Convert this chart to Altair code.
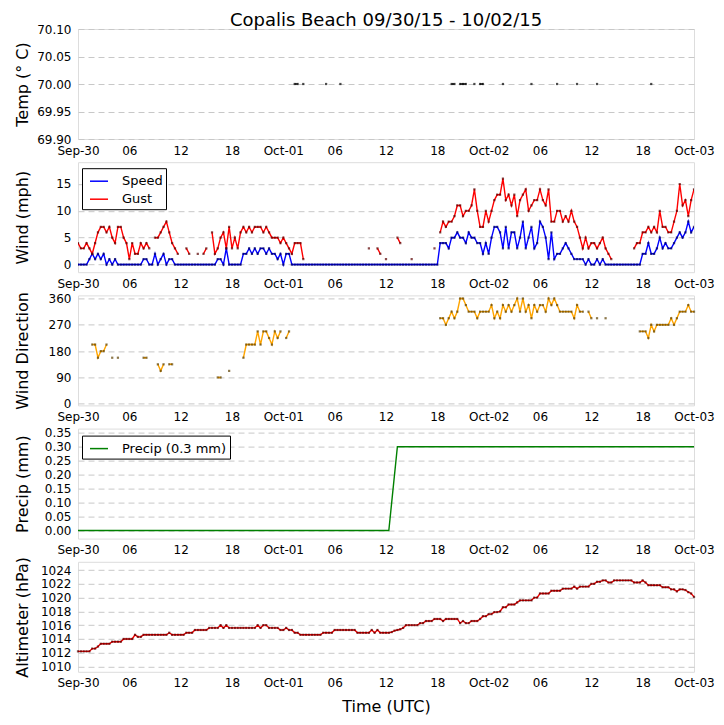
import json
import altair as alt
import pandas as pd

N = None

title_text = "Copalis Beach 09/30/15 - 10/02/15"
x_tick_hours = [0, 6, 12, 18, 24, 30, 36, 42, 48, 54, 60, 66, 72]
x_tick_labels = ["Sep-30", "06", "12", "18", "Oct-01", "06", "12", "18",
                 "Oct-02", "06", "12", "18", "Oct-03"]
obs_step_hours = 1 / 3  # 20-minute observations

# wind speed (mph), one value per 20 minutes
wind_speed = [
    0, 0, 0, 0, 1, 2, 1, 2, 1, 2, 0, 1,
    0, 1, 0, 0, 0, 0, 0, 0, 0, 0, 0, 1,
    1, 0, 0, 2, 0, 1, 2, 0, 1, 1, 0, 0,
    0, 0, 0, 0, 0, 0, 0, 0, 0, 0, 0, 0,
    0, 1, 1, 0, 3, 0, 0, 0, 0, 0, 2, 2,
    3, 2, 3, 2, 3, 3, 2, 3, 2, 2, 1, 2,
    0, 2, 2, 0, 0, 0, 0, 0, 0, 0, 0, 0,
    0, 0, 0, 0, 0, 0, 0, 0, 0, 0, 0, 0,
    0, 0, 0, 0, 0, 0, 0, 0, 0, 0, 0, 0,
    0, 0, 0, 0, 0, 0, 0, 0, 0, 0, 0, 0,
    0, 0, 0, 0, 0, 0, 0, 4, 4, 4, 3, 5,
    5, 6, 5, 5, 4, 6, 5, 5, 4, 4, 2, 4,
    2, 5, 7, 7, 6, 3, 7, 3, 6, 6, 3, 5,
    8, 3, 5, 7, 3, 4, 8, 7, 5, 1, 6, 1,
    2, 2, 3, 4, 3, 2, 1, 1, 1, 1, 0, 1,
    0, 0, 1, 0, 1, 0, 0, 0, 0, 0, 0, 0,
    0, 0, 0, 0, 0, 0, 2, 2, 4, 2, 2, 3,
    5, 3, 4, 3, 3, 4, 5, 6, 5, 6, 8, 6,
    7,
]

# wind gust (mph)
wind_gust = [
    4, 3, 3, 4, 3, 2, 4, 6, 7, 7, 6, 7,
    5, 4, 7, 7, 5, 4, 1, 4, 2, 2, 4, 3,
    4, 3, N, 5, 5, 6, 7, 8, 6, 4, 3, 2,
    N, N, 3, 2, N, N, 2, N, 2, 3, N, 6,
    2, 3, 5, 6, 3, 7, 3, 5, 3, 6, 7, 6,
    7, 6, 7, 7, 7, 6, 7, 6, 5, 5, 5, 4,
    5, 4, 3, 2, 4, 4, 4, 1, N, N, N, N,
    N, N, N, N, N, N, N, N, N, N, N, N,
    N, N, N, N, N, N, 3, N, N, 3, 2, N,
    1, N, N, N, 5, 4, N, N, N, 1, N, N,
    N, N, N, N, N, 3, N, 6, 8, 7, 8, 8,
    9, 11, 11, 9, 10, 10, 11, 14, 10, 7, 7, 10,
    8, 10, 12, 13, 13, 16, 12, 13, 11, 13, 9, 12,
    13, 14, 10, 11, 12, 12, 14, 12, 11, 14, 8, 8,
    10, 10, 8, 9, 8, 10, 8, 7, 5, 3, 5, 3,
    4, 4, 3, 4, 5, 3, 2, 1, N, N, N, N,
    N, N, N, 3, 4, 4, 6, 6, 7, 6, 7, 6,
    10, 7, 7, 6, 6, 8, 10, 15, 11, 12, 9, 12,
    14,
]

# wind direction (degrees)
wind_dir = [
    N, N, N, N, N, 202.5, 202.5, 157.5, 180, 180, 202.5, N,
    157.5, N, 157.5, N, N, N, N, N, N, N, N, 157.5,
    157.5, N, N, N, 135, 112.5, 135, N, 135, 135, N, N,
    N, N, N, N, N, N, N, N, N, N, N, N,
    N, 90, 90, N, N, 112.5, N, N, N, N, 157.5, 202.5,
    202.5, 202.5, 202.5, 247.5, 202.5, 247.5, 247.5, 225, 202.5, 247.5, 225, 247.5,
    N, 225, 247.5, N, N, N, N, N, N, N, N, N,
    N, N, N, N, N, N, N, N, N, N, N, N,
    N, N, N, N, N, N, N, N, N, N, N, N,
    N, N, N, N, N, N, N, N, N, N, N, N,
    N, N, N, N, N, N, N, 292.5, 292.5, 270, 292.5, 315,
    292.5, 315, 360, 360, 337.5, 315, 315, 315, 292.5, 315, 315, 315,
    315, 337.5, 292.5, 315, 292.5, 337.5, 315, 337.5, 315, 337.5, 360, 315,
    360, 315, 337.5, 292.5, 337.5, 315, 337.5, 337.5, 315, 360, 337.5, 360,
    337.5, 315, 315, 315, 315, 315, 292.5, 337.5, 315, 315, N, 315,
    292.5, N, 292.5, N, N, 292.5, N, N, N, N, N, N,
    N, N, N, N, N, 247.5, 247.5, 247.5, 225, 270, 247.5, 270,
    270, 270, 270, 270, 292.5, 270, 292.5, 315, 315, 315, 337.5, 315,
    315,
]

# altimeter (hPa)
altimeter = [
    1012.2, 1012.2, 1012.2, 1012.2, 1012.2, 1012.6, 1012.6, 1012.9, 1013.3, 1013.3, 1013.3, 1013.3,
    1013.6, 1013.6, 1013.6, 1013.6, 1014.0, 1014.0, 1014.0, 1014.0, 1014.6, 1014.3, 1014.3, 1014.6,
    1014.6, 1014.6, 1014.6, 1014.6, 1014.6, 1014.6, 1014.6, 1014.6, 1014.9, 1014.6, 1014.6, 1014.6,
    1014.6, 1014.6, 1014.9, 1014.9, 1014.9, 1015.3, 1015.3, 1015.3, 1015.3, 1015.3, 1015.6, 1015.6,
    1015.6, 1015.6, 1016.0, 1015.6, 1016.0, 1015.6, 1015.6, 1015.6, 1015.6, 1015.6, 1015.6, 1015.6,
    1015.6, 1015.6, 1015.6, 1016.0, 1015.6, 1016.0, 1016.0, 1015.6, 1015.6, 1015.6, 1015.6, 1015.3,
    1015.3, 1015.6, 1015.3, 1015.3, 1014.9, 1014.9, 1014.6, 1014.6, 1014.6, 1014.6, 1014.6, 1014.6,
    1014.6, 1014.6, 1014.9, 1014.9, 1014.9, 1014.9, 1015.3, 1015.3, 1015.3, 1015.3, 1015.3, 1015.3,
    1015.3, 1015.3, 1014.9, 1014.9, 1014.9, 1014.9, 1014.9, 1015.3, 1014.9, 1015.3, 1014.9, 1014.9,
    1014.9, 1014.9, 1015.0, 1015.2, 1015.3, 1015.4, 1015.6, 1016.0, 1016.0, 1016.0, 1016.0, 1016.0,
    1016.3, 1016.3, 1016.6, 1016.6, 1016.6, 1016.9, 1016.9, 1016.9, 1016.6, 1016.9, 1016.9, 1016.9,
    1016.9, 1016.9, 1016.3, 1016.6, 1016.3, 1016.3, 1016.6, 1016.6, 1016.6, 1016.9, 1017.3, 1017.3,
    1017.6, 1017.6, 1017.9, 1017.9, 1018.0, 1018.6, 1018.6, 1019.0, 1019.0, 1019.0, 1019.3, 1019.6,
    1019.6, 1019.6, 1019.6, 1019.6, 1020.0, 1020.0, 1020.6, 1020.6, 1020.6, 1020.6, 1021.0, 1021.0,
    1021.0, 1021.0, 1021.3, 1021.3, 1021.3, 1021.3, 1021.6, 1021.3, 1021.6, 1021.6, 1021.6, 1021.6,
    1022.0, 1022.0, 1022.3, 1022.3, 1022.5, 1022.5, 1022.2, 1022.2, 1022.5, 1022.5, 1022.5, 1022.5,
    1022.5, 1022.5, 1022.5, 1022.2, 1022.2, 1022.2, 1022.5, 1022.2, 1021.8, 1021.8, 1021.8, 1021.8,
    1021.8, 1021.5, 1021.5, 1021.5, 1021.2, 1021.2, 1020.9, 1021.2, 1021.2, 1021.1, 1020.8, 1020.6,
    1020.1,
]

# accumulated precipitation (mm)
precip_hours = [0.0, 36.33, 37.33, 72.0]
precip_mm = [0.0, 0.0, 0.3, 0.3]

# temperature readings that fall inside the axis range (grouped in runs)
temp_hours = [25.33, 25.67, 26.33, 29.0, 30.67, 43.67, 44.0, 44.67, 45.0, 45.33,
              46.33, 47.0, 47.33, 49.67, 53.0, 56.0, 58.33, 60.67, 67.0]
temp_run = [1, 1, 2, 3, 4, 5, 5, 6, 6, 6, 7, 8, 8, 9, 10, 11, 12, 13, 14]
temp_c = [70.0] * len(temp_hours)

hours = [i * obs_step_hours for i in range(len(wind_speed))]

FONT = "DejaVu Sans"
PANEL_W = 616
PANEL_H = 110
label_expr = f"{json.dumps(x_tick_labels)}[round(datum.value / 6)]"


def xenc(last=False):
    kw = dict(values=x_tick_hours, labelExpr=label_expr, grid=False, ticks=False,
              domain=False, labelFontSize=12, labelPadding=6, labelFlush=False,
              labelOverlap=False, labelColor="black", labelFont=FONT)
    if last:
        kw.update(title="Time (UTC)", titleFontSize=16, titleFontWeight="normal",
                  titlePadding=10, titleColor="black", titleFont=FONT)
    else:
        kw["title"] = None
    return alt.X("hour:Q", scale=alt.Scale(domain=[0, 72], nice=False, zero=False),
                 axis=alt.Axis(**kw))


def yenc(title, domain, values, fmt=""):
    kw = dict(title=title, values=values, grid=True, gridColor="#c8c8c8",
              gridDash=[6, 4], gridWidth=1, ticks=False, domain=False,
              labelFontSize=12, labelPadding=7, labelFlush=False, labelColor="black",
              labelFont=FONT, titleFontSize=16, titleFontWeight="normal",
              titleColor="black", titleFont=FONT, titleX=-56, titleY=PANEL_H / 2,
              titleAngle=270, titleBaseline="middle", titleAlign="center")
    if fmt:
        kw["format"] = fmt
    return alt.Y("value:Q", scale=alt.Scale(domain=domain, nice=False, zero=False),
                 axis=alt.Axis(**kw))


def legend(x, y):
    return alt.Legend(title=None, orient="none", legendX=x, legendY=y,
                      direction="vertical", strokeColor="black", fillColor="white",
                      padding=3, symbolType="stroke", symbolSize=324,
                      symbolStrokeWidth=1.5, symbolOffset=4, labelFontSize=13,
                      labelFont=FONT, labelColor="black", labelOffset=13,
                      rowPadding=1, cornerRadius=0)


# ---- Temperature panel
temp_df = pd.DataFrame({"hour": temp_hours, "value": temp_c, "run": temp_run})
ty = yenc("Temp (° C)", [69.9, 70.1], [69.9, 69.95, 70.0, 70.05, 70.1], ".2f")
temp_panel = alt.layer(
    alt.Chart(temp_df).mark_line(color="black", strokeWidth=1.4).encode(
        x=xenc(), y=ty, detail="run:N"),
    alt.Chart(temp_df).mark_square(color="black", size=5).encode(x=xenc(), y=ty),
).properties(width=PANEL_W, height=PANEL_H)

# ---- Wind panel
wind_df = pd.concat([
    pd.DataFrame({"hour": hours, "value": wind_speed, "series": "Speed"}),
    pd.DataFrame({"hour": hours, "value": wind_gust, "series": "Gust"}),
], ignore_index=True)
wy = yenc("Wind (mph)", [-1.43, 19.06], [0, 5, 10, 15])
wind_panel = alt.layer(
    alt.Chart(wind_df).mark_line(strokeWidth=1.4, clip=True).encode(
        x=xenc(), y=wy,
        color=alt.Color("series:N",
                        scale=alt.Scale(domain=["Speed", "Gust"], range=["#0000ff", "#ff0000"]),
                        legend=legend(4, 6))),
    alt.Chart(wind_df).mark_square(size=5, clip=True).encode(
        x=xenc(), y=wy,
        fill=alt.Fill("series:N",
                      scale=alt.Scale(domain=["Speed", "Gust"], range=["#00005a", "#5a0000"]),
                      legend=None)),
).properties(width=PANEL_W, height=PANEL_H)

# ---- Wind direction panel
dir_df = pd.DataFrame({"hour": hours, "value": wind_dir})
dy = yenc("Wind Direction", [-5.5, 370.6], [0, 90, 180, 270, 360])
dir_panel = alt.layer(
    alt.Chart(dir_df).mark_line(color="#ffa500", strokeWidth=1.4).encode(x=xenc(), y=dy),
    alt.Chart(dir_df).mark_square(color="#5c4000", size=5).encode(x=xenc(), y=dy),
).properties(width=PANEL_W, height=PANEL_H)

# ---- Precip panel
precip_name = f"Precip ({max(precip_mm)} mm)"
precip_df = pd.DataFrame({"hour": precip_hours, "value": precip_mm, "series": precip_name})
py = yenc("Precip (mm)", [-0.029, 0.365],
          [0, 0.05, 0.1, 0.15, 0.2, 0.25, 0.3, 0.35], ".2f")
precip_panel = alt.Chart(precip_df).mark_line(strokeWidth=1.4).encode(
    x=xenc(), y=py,
    color=alt.Color("series:N", scale=alt.Scale(domain=[precip_name], range=["#008000"]),
                    legend=legend(4, 7)),
).properties(width=PANEL_W, height=PANEL_H)

# ---- Altimeter panel
alt_df = pd.DataFrame({"hour": hours, "value": altimeter})
ay = yenc("Altimeter (hPa)", [1009.23, 1025.2],
          [1010, 1012, 1014, 1016, 1018, 1020, 1022, 1024], "d")
alt_panel = alt.layer(
    alt.Chart(alt_df).mark_line(color="#ff0000", strokeWidth=1.4).encode(x=xenc(True), y=ay),
    alt.Chart(alt_df).mark_square(color="#4d0000", size=5).encode(x=xenc(True), y=ay),
).properties(width=PANEL_W, height=PANEL_H)

chart = alt.vconcat(
    temp_panel, wind_panel, dir_panel, precip_panel, alt_panel,
    spacing=23.2, bounds="flush",
).resolve_scale(color="independent", fill="independent").resolve_legend(
    color="independent"
).properties(
    title=alt.TitleParams(title_text, fontSize=18, fontWeight="normal", font=FONT,
                          color="black", anchor="middle", frame="group", offset=-7.5),
    padding={"left": 5, "top": 4, "right": 0, "bottom": 2},
).configure_view(strokeWidth=0).configure(font=FONT)

chart.save("out.html", embed_options={"renderer": "svg", "actions": False})
